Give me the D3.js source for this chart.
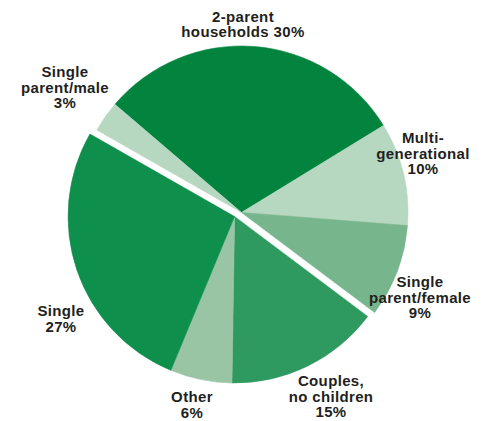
<!DOCTYPE html>
<html>
<head>
<meta charset="utf-8">
<script src="https://cdn.jsdelivr.net/npm/d3@7"></script>
<style>
  html, body { margin: 0; padding: 0; background: #ffffff; }
  svg { display: block; }
  .lbl { font-family: "Liberation Sans", Arial, Helvetica, sans-serif; font-weight: bold; font-size: 15px; letter-spacing: 0.35px; fill: #231f20; }
</style>
</head>
<body>
<svg id="chart" width="487" height="421"></svg>
<script>
// Household types, clockwise from the upper left
const categories = ["2-parent households", "Multi-generational", "Single parent/female",
                    "Couples, no children", "Other", "Single", "Single parent/male"];
const values = [30, 10, 9, 15, 6, 27, 3];
// Label lines; "{v}" is replaced by the slice value
const labelLines = [
  ["2-parent", "households {v}%"],
  ["Multi-", "generational", "{v}%"],
  ["Single", "parent/female", "{v}%"],
  ["Couples,", "no children", "{v}%"],
  ["Other", "{v}%"],
  ["Single", "{v}%"],
  ["Single", "parent/male", "{v}%"]
];
// Slices pulled away from the rest of the pie
const pulledOut = ["Couples, no children", "Other", "Single"];

const colors = {
  "2-parent households": "#03843e",
  "Multi-generational": "#b6d7c0",
  "Single parent/female": "#77b68c",
  "Couples, no children": "#2f9a60",
  "Other": "#99c5a5",
  "Single": "#0e8f4b",
  "Single parent/male": "#b6d7c0"
};

// Layout
const cx = 241.5, cy = 212.5, radius = 166.5;
const pullDist = 8, pullAngle = 240 * Math.PI / 180;  // direction of the pulled group (0 = up, clockwise)
const startDeg = -49.5;
const lineH = 15.5;
// Text anchor (centre x, first baseline y) for each label block
const labelAnchor = {
  "2-parent households": [243, 21.5],
  "Multi-generational": [423, 143],
  "Single parent/female": [420, 287],
  "Couples, no children": [331, 386],
  "Other": [192, 402],
  "Single": [61, 316],
  "Single parent/male": [65, 77]
};

const data = categories.map((c, i) => ({ name: c, value: values[i], lines: labelLines[i] }));

const start = startDeg * Math.PI / 180;
const pie = d3.pie().sort(null).value(d => d.value)
  .startAngle(start).endAngle(start + 2 * Math.PI);
const arc = d3.arc().innerRadius(0).outerRadius(radius);

const svg = d3.select("#chart");
const arcs = pie(data);

const main = svg.append("g").attr("transform", `translate(${cx},${cy})`);
const pulled = svg.append("g").attr("transform",
  `translate(${cx + pullDist * Math.sin(pullAngle)},${cy - pullDist * Math.cos(pullAngle)})`);

arcs.forEach(a => {
  const g = pulledOut.includes(a.data.name) ? pulled : main;
  g.append("path")
    .attr("d", arc(a))
    .attr("fill", colors[a.data.name])
    .attr("stroke", colors[a.data.name])
    .attr("stroke-width", 0.6)
    .attr("stroke-linejoin", "round");
});

// Labels
const labels = svg.append("g");
data.forEach(d => {
  const [x, y] = labelAnchor[d.name];
  const t = labels.append("text").attr("class", "lbl").attr("text-anchor", "middle");
  d.lines.forEach((ln, k) => {
    t.append("tspan")
      .attr("x", x)
      .attr("y", y + k * lineH)
      .text(ln.replace("{v}", d.value));
  });
});
</script>
</body>
</html>
